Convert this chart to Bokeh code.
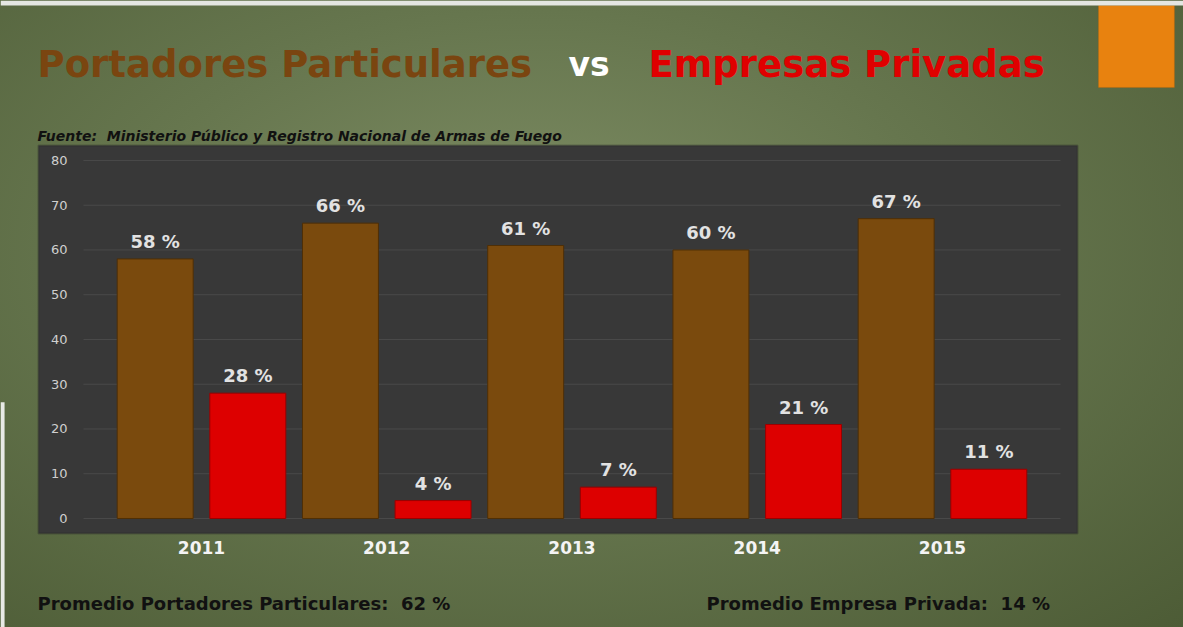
from bokeh.plotting import figure
from bokeh.models import Range1d, FixedTicker, Label, BoxAnnotation, ColumnDataSource
from bokeh.core.properties import value
from bokeh.transform import dodge
from bokeh.embed import file_html
from bokeh.resources import INLINE

# ---- data ----
years = ["2011", "2012", "2013", "2014", "2015"]
particulares = [58, 66, 61, 60, 67]
empresas = [28, 4, 7, 21, 11]
y_ticks = [0, 10, 20, 30, 40, 50, 60, 70, 80]
promedio_particulares = 62
promedio_empresas = 14

title_left = "Portadores Particulares"
title_mid = "vs"
title_right = "Empresas Privadas"
fuente = "Fuente: \u00a0Ministerio Público y Registro Nacional de Armas de Fuego"

FONT = "DejaVu Sans"
BROWN = "#7a4a0d"
RED = "#dd0000"

xs = list(range(len(years)))
src = ColumnDataSource(dict(
    x=xs,
    part=particulares,
    emp=empresas,
    part_lbl=[f"{v} %" for v in particulares],
    emp_lbl=[f"{v} %" for v in empresas],
))
grid_src = ColumnDataSource(dict(y=y_ticks))

# the frame covers the whole slide; the dark chart panel is drawn inside it
p = figure(width=1183, height=627, output_backend="svg", toolbar_location=None,
           x_range=Range1d(-1.085, 5.301), y_range=Range1d(-24.36, 115.75),
           min_border=0)

p.border_fill_color = None
p.background_fill_color = None
p.outline_line_color = None
p.styles = {"background-image":
            "radial-gradient(ellipse at 45% 40%, #7e8d64 0%, #66764e 45%, #4d5c36 100%)"}

# dark chart panel
p.add_layout(BoxAnnotation(left=-0.88, right=4.729, bottom=-3.35, top=83.35,
                           fill_color="#383838", fill_alpha=1.0,
                           line_color="#262626", line_width=2, level="image"))

# grid lines
p.xgrid.grid_line_color = None
p.ygrid.grid_line_color = None
p.segment(x0=-0.637, x1=4.637, y0="y", y1="y", source=grid_src,
          line_color="#4a4a4a", line_width=1)

# y axis (labels drawn inside the dark panel)
p.yaxis.ticker = FixedTicker(ticks=y_ticks)
p.yaxis.axis_line_color = None
p.yaxis.major_tick_line_color = None
p.yaxis.minor_tick_line_color = None
p.yaxis.major_tick_out = 0
p.yaxis.major_tick_in = 0
p.yaxis.major_label_standoff = -67
p.yaxis.major_label_text_color = "#cfcfcf"
p.yaxis.major_label_text_font = FONT
p.yaxis.major_label_text_font_size = "13px"

# x axis with year labels
p.xaxis.ticker = FixedTicker(ticks=xs)
p.xaxis.major_label_overrides = {i: y for i, y in zip(xs, years)}
p.xaxis.axis_line_color = None
p.xaxis.major_tick_line_color = None
p.xaxis.minor_tick_line_color = None
p.xaxis.major_tick_out = 0
p.xaxis.major_tick_in = 0
p.xaxis.major_label_standoff = -87
p.xaxis.major_label_text_color = "#f4f4f4"
p.xaxis.major_label_text_font = FONT
p.xaxis.major_label_text_font_style = "bold"
p.xaxis.major_label_text_font_size = "17px"

# bars
p.vbar(x=dodge("x", -0.25, range=p.x_range), top="part", width=0.41, source=src,
       fill_color=BROWN, line_color="#4f2f06", line_width=1)
p.vbar(x=dodge("x", 0.25, range=p.x_range), top="emp", width=0.41, source=src,
       fill_color=RED, line_color="#9a0000", line_width=1)

# value labels
for col, lbl, off in (("part", "part_lbl", -0.25), ("emp", "emp_lbl", 0.25)):
    p.text(x=dodge("x", off, range=p.x_range), y=col, text=lbl, source=src,
           text_align="center", text_baseline="bottom", y_offset=-7,
           text_color="#e2e2e2", text_font=value(FONT), text_font_style="bold",
           text_font_size="18px")

# texts on the slide
def lab(x, y, text, color, size, style="bold"):
    p.add_layout(Label(x=x, y=y, text=text, text_color=color, text_font=FONT,
                       text_font_size=size, text_font_style=style,
                       text_baseline="alphabetic", text_align="left"))

lab(-0.885, 101.4, title_left, "#7a4510", "37px")
lab(1.981, 101.4, title_mid, "#ffffff", "33px")
lab(2.413, 101.4, title_right, "#e00000", "37px")
lab(-0.885, 85.4, fuente, "#111111", "14px", "bold italic")
lab(-0.885, -19.0, f"Promedio Portadores Particulares: \u00a0{promedio_particulares} %",
    "#111111", "18px")
lab(2.726, -19.0, f"Promedio Empresa Privada: \u00a0{promedio_empresas} %",
    "#111111", "18px")

# orange square (decoration) and light strips at the edges of the photo
p.add_layout(BoxAnnotation(left=4.842, right=5.252, top=114.64, bottom=96.31,
                           fill_color="#e8820f", fill_alpha=1.0,
                           line_color="#b86208", line_width=1))
p.add_layout(BoxAnnotation(left=-1.085, right=5.301, top=115.75, bottom=114.64,
                           fill_color="#e4e6e2", fill_alpha=1.0, line_color=None))
p.add_layout(BoxAnnotation(left=-1.085, right=-1.063, top=26.0, bottom=-24.36,
                           fill_color="#e8eae6", fill_alpha=1.0, line_color=None))

open("out.html", "w").write(file_html(p, INLINE))
